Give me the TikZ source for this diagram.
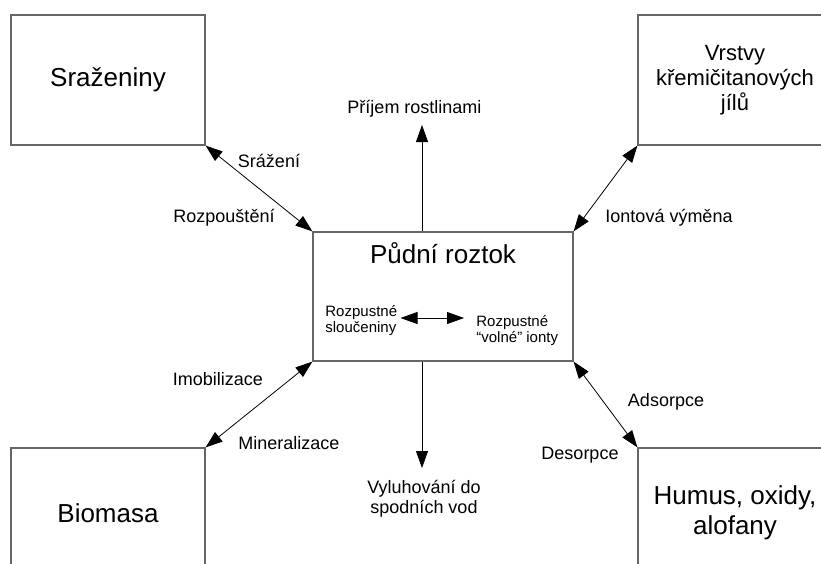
\documentclass[tikz,border=0pt]{standalone}
\usepackage{fontspec}
\setmainfont{Liberation Sans}
\usetikzlibrary{arrows.meta}

\begin{document}
\begin{tikzpicture}[<->,>={Triangle[length=17pt,width=12pt]},x=1pt,y=-1pt,
		line width=0.8pt]
		\tikzstyle{every node}=[inner sep=0pt]
		\tikzstyle{pool}=[draw=black!60,line width=1.2pt,minimum width=194pt,
		minimum height=130pt,align=center,font=\fontsize{26}{30}\selectfont]
		\tikzstyle{flux}=[font=\fontsize{18}{20}\selectfont,anchor=base]
		\tikzstyle{form}=[font=\fontsize{15}{16}\selectfont,align=left,anchor=west]
		
		\useasboundingbox (0,0) rectangle (821,563);
		
		\node[pool] (sra) at (108,80)  {Sraženiny};
		\node[pool,font=\fontsize{22}{25}\selectfont] (vrs) at (735,80)
		{Vrstvy\\křemičitanových\\jílů};
		\node[pool] (bio) at (108,513) {Biomasa};
		\node[pool] (hum) at (735,513) {Humus, oxidy,\\alofany};
		\node[pool,minimum width=260pt,minimum height=129pt] (pud) at (443,296.5) {};
		
		\node[font=\fontsize{26}{30}\selectfont,anchor=base] (pudt) at (443,263) {Půdní roztok};
		\node[form] (sl) at (325,321) {Rozpustné\\sloučeniny};
		\node[form] (io) at (476,330.5) {Rozpustné\\“volné” ionty};
		
		\node[flux] (f1) at (269,167)   {Srážení};
		\node[flux] (f2) at (224,222)   {Rozpouštění};
		\node[flux] (f3) at (414.5,113) {Příjem rostlinami};
		\node[flux] (f4) at (669,222)   {Iontová výměna};
		\node[flux] (f5) at (218,385)   {Imobilizace};
		\node[flux] (f6) at (289,449)   {Mineralizace};
		\node[flux] (f7) at (666,406)   {Adsorpce};
		\node[flux] (f8) at (580,459)   {Desorpce};
		\node[flux,anchor=center,align=center] (f9) at (424,499) {Vyluhování do\\spodních vod};
		
		\coordinate (up) at (422,125);
		\coordinate (down) at (422,468);
		\coordinate (mid) at ([yshift=3pt]sl.east);
		
		\draw (sra.south east) -- (pud.north west);
		\draw (vrs.south west) -- (pud.north east);
		\draw (bio.north east) -- (pud.south west);
		\draw (hum.north west) -- (pud.south east);
		\draw[->] (up |- pud.north) -- (up);
		\draw[->] (down |- pud.south) -- (down);
		\draw[shorten <=3pt,shorten >=12pt] (mid) -- (mid -| io.west);
\end{tikzpicture}
\end{document}
